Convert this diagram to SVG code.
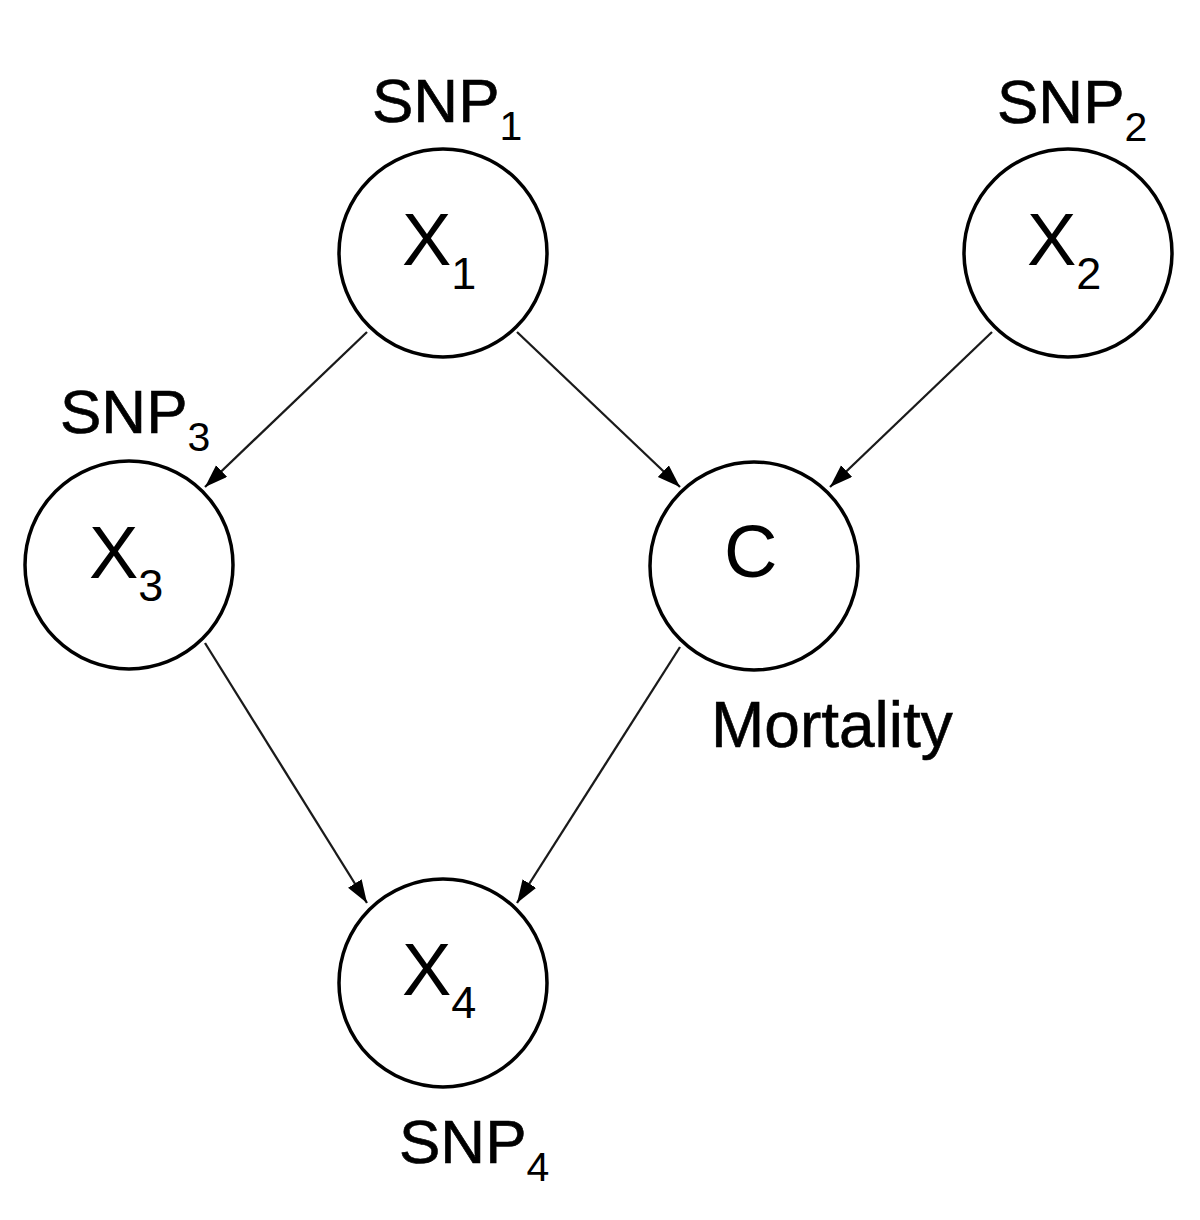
<svg xmlns="http://www.w3.org/2000/svg" width="1200" height="1220" viewBox="0 0 1200 1220">
  <style>
    .node { fill: #ffffff; stroke: #000000; stroke-width: 3.5; }
    .var { font-family: "Liberation Sans", Arial, sans-serif; font-size: 74px; fill: #000000; }
    .lab { font-family: "Liberation Sans", Arial, sans-serif; font-size: 62px; fill: #000000; stroke: #000000; stroke-width: 0.6; }
    .sub { font-size: 45px; }
    .lsub { font-size: 41px; stroke-width: 0; }
    .edge { stroke: #1a1a1a; stroke-width: 2.3; fill: none; marker-end: url(#arrow); }
  </style>
  <defs>
    <marker id="arrow" markerUnits="userSpaceOnUse" markerWidth="26" markerHeight="18" refX="23" refY="8" orient="auto">
      <path d="M0,0 L23,8 L0,16 Z" fill="#000000"/>
    </marker>
  </defs>
  <rect x="0" y="0" width="1200" height="1220" fill="#ffffff"/>

  <g id="connectors">
    <line class="edge" x1="367" y1="332" x2="205" y2="487"/>
    <line class="edge" x1="517" y1="332" x2="680" y2="487"/>
    <line class="edge" x1="992" y1="332" x2="830" y2="487"/>
    <line class="edge" x1="205" y1="643" x2="367" y2="903"/>
    <line class="edge" x1="680" y1="647" x2="517" y2="903"/>
  </g>

  <g id="node-x1">
    <circle class="node" cx="443" cy="253" r="104"/>
    <text class="var" x="402" y="265">X<tspan class="sub" dy="24">1</tspan></text>
    <text class="lab" x="372" y="122">SNP<tspan class="lsub" dy="18">1</tspan></text>
  </g>

  <g id="node-x2">
    <circle class="node" cx="1068" cy="253" r="104"/>
    <text class="var" x="1027" y="265">X<tspan class="sub" dy="24">2</tspan></text>
    <text class="lab" x="997" y="123">SNP<tspan class="lsub" dy="18">2</tspan></text>
  </g>

  <g id="node-x3">
    <circle class="node" cx="129" cy="565" r="104"/>
    <text class="var" x="89" y="578">X<tspan class="sub" dy="23">3</tspan></text>
    <text class="lab" x="60" y="433">SNP<tspan class="lsub" dy="18">3</tspan></text>
  </g>

  <g id="node-c">
    <circle class="node" cx="754" cy="566" r="104"/>
    <text class="var" x="724" y="577">C</text>
    <text class="lab" x="711" y="747" style="font-size:64px">Mortality</text>
  </g>

  <g id="node-x4">
    <circle class="node" cx="443" cy="983" r="104"/>
    <text class="var" x="402" y="995">X<tspan class="sub" dy="23">4</tspan></text>
    <text class="lab" x="399" y="1163">SNP<tspan class="lsub" dy="18">4</tspan></text>
  </g>
</svg>
